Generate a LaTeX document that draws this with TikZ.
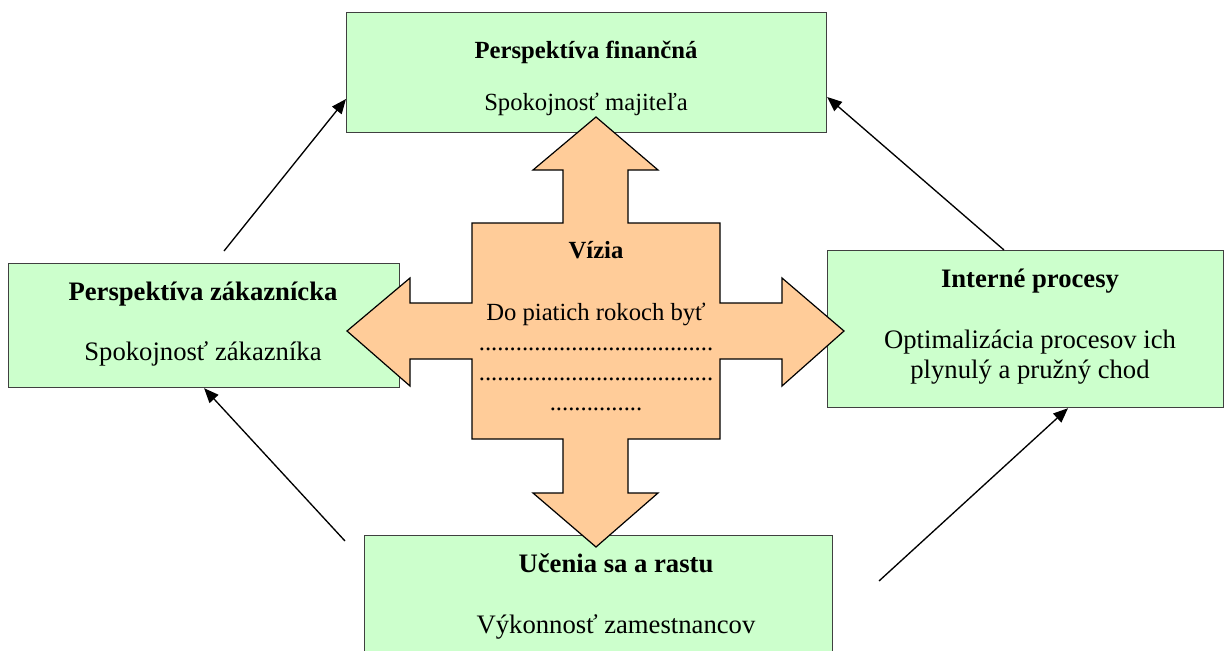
\documentclass[tikz,border=0pt]{standalone}
\usepackage{fontspec}
\setmainfont{Liberation Serif}
\usetikzlibrary{arrows.meta,calc}
\definecolor{boxgreen}{HTML}{CCFFCC}
\definecolor{crossorange}{HTML}{FFCC99}
\definecolor{boxline}{HTML}{404040}
\begin{document}
\begin{tikzpicture}[x=0.75pt,y=-0.75pt,
  box/.style={draw=boxline,fill=boxgreen,line width=0.9pt,inner sep=0pt,anchor=north west},
  crossshape/.style={draw=black,fill=crossorange,line width=0.9pt,line join=miter},
  txt/.style={anchor=base,inner sep=0pt,font=\fontsize{18.5}{22.5}\selectfont},
  ttl/.style={txt,font=\fontsize{18.5}{22.5}\selectfont\bfseries},
  btxt/.style={anchor=base,inner sep=0pt,font=\fontsize{20}{22.5}\selectfont},
  bttl/.style={btxt,font=\fontsize{20}{22.5}\selectfont\bfseries},
  link/.style={draw=black,line width=1pt,-{Triangle[length=11pt,width=9pt]}}]
\useasboundingbox (0,0) rectangle (1225,650);
\clip (0,0) rectangle (1225,650);
% boxes
\node[box,minimum width=360pt,minimum height=90pt] (T) at (346,12) {};
\node[box,minimum width=293.25pt,minimum height=93pt] (L) at (8,263) {};
\node[box,minimum width=297pt,minimum height=117.75pt] (R) at (827,250) {};
\node[box,minimum width=351pt,minimum height=97.5pt] (B) at (364,535) {};
% box texts
\node[ttl] (Tt) at (586,58) {Perspektíva finančná};
\node[txt] (Ts) at (586,110) {Spokojnosť majiteľa};
\node[bttl] (Lt) at (203,300) {Perspektíva zákaznícka};
\node[btxt] (Ls) at (203,360) {Spokojnosť zákazníka};
\node[bttl] (Rt) at (1030,287) {Interné procesy};
\node[btxt] (Rs1) at (1030,348) {Optimalizácia procesov ich};
\node[btxt] (Rs2) at (1030,378) {plynulý a pružný chod};
\node[bttl] (Bt) at (616,572) {Učenia sa a rastu};
\node[btxt] (Bs) at (616,633) {Výkonnosť zamestnancov};
% cross
\draw[crossshape] (596,117) -- (658,170) -- (628,170) -- (628,223) -- (720,223) -- (720,303)
  -- (782,303) -- (782,278) -- (844,331) -- (782,386) -- (782,359) -- (720,359)
  -- (720,439) -- (628,439) -- (628,493) -- (658,493) -- (596,547) -- (533,493)
  -- (563,493) -- (563,439) -- (472,439) -- (472,359) -- (410,359) -- (410,386)
  -- (347,331) -- (410,278) -- (410,303) -- (472,303) -- (472,223) -- (563,223)
  -- (563,170) -- (533,170) -- cycle;
\node[ttl] (Vt) at (596,258) {Vízia};
\node[txt] (V1) at (596,320) {Do piatich rokoch byť};
\node[txt] (V2) at (596,350) {......................................};
\node[txt] (V3) at (596,380) {......................................};
\node[txt] (V4) at (596,410) {...............};
% connectors
\coordinate (s1) at (345,541);
\coordinate (e1) at (L.south);
\coordinate (s2) at (224,251);
\coordinate (e2) at ($(T.north west)+(0,87)$);
\coordinate (s3) at (1004,250);
\coordinate (e3) at ($(T.north east)+(0,85)$);
\coordinate (s4) at (879,581);
\coordinate (e4) at ($(R.south west)+(241,0)$);
\draw[link] (s1) -- (e1);
\draw[link] (s2) -- (e2);
\draw[link] (s3) -- (e3);
\draw[link] (s4) -- (e4);
\end{tikzpicture}
\end{document}
